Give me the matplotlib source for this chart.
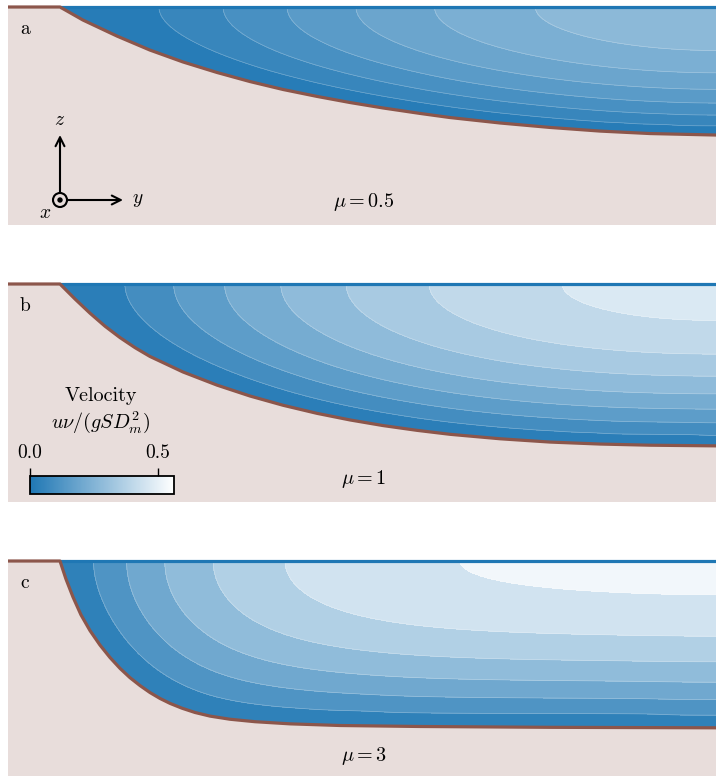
import numpy as np
import matplotlib
matplotlib.use("Agg")
import matplotlib.pyplot as plt
from matplotlib.colors import LinearSegmentedColormap, Normalize
from matplotlib.patches import Circle, Polygon
from matplotlib.cm import ScalarMappable

# bed profiles: distance from the bank top and depth,
# both in units of the channel depth (1 unit = 165 px in the figure)
bank_y_a = [0, 0.139, 0.345, 0.545, 0.745, 0.952, 1.152, 1.352, 1.558, 1.758, 1.958,
            2.182, 2.364, 2.667, 2.970, 3.273, 3.576, 3.976]
depth_a = [0, 0.079, 0.176, 0.261, 0.333, 0.397, 0.452, 0.500, 0.542, 0.579, 0.612,
           0.645, 0.670, 0.703, 0.730, 0.752, 0.767, 0.776]

bank_y_b = [0, 0.091, 0.182, 0.273, 0.364, 0.455, 0.545, 0.745, 0.952, 1.152, 1.352,
            1.558, 1.758, 1.958, 2.164, 2.364, 2.667, 2.970, 3.273, 3.576, 3.976]
depth_b = [0, 0.091, 0.177, 0.256, 0.325, 0.386, 0.439, 0.533, 0.613, 0.679, 0.735,
           0.784, 0.824, 0.858, 0.887, 0.911, 0.938, 0.958, 0.970, 0.977, 0.981]

bank_y_c = [0, 0.036, 0.079, 0.127, 0.182, 0.242, 0.303, 0.364, 0.424, 0.485, 0.545,
            0.606, 0.667, 0.739, 0.818, 0.909, 1.030, 1.182, 1.394, 1.697, 2.182,
            2.970, 3.976]
depth_c = [0, 0.109, 0.219, 0.326, 0.422, 0.509, 0.585, 0.651, 0.707, 0.755, 0.797,
           0.833, 0.863, 0.892, 0.918, 0.940, 0.959, 0.974, 0.987, 0.997, 1.003,
           1.008, 1.011]

panel_letters = ["a", "b", "c"]
mu_values = ["0.5", "1", "3"]
level_top = [0.295, 0.50, 0.57]  # highest contour level in each panel
n_bands = [7, 8, 7]              # number of filled bands in each panel
vel_max = 0.5625                 # top of the colour scale
cbar_ticks = [0.0, 0.5]
cbar_ticklabels = ["0.0", "0.5"]

profiles = [(bank_y_a, depth_a), (bank_y_b, depth_b), (bank_y_c, depth_c)]


def solve_flow(bank_y, depth, y_end, step=0.01, n_iter=1500, omega=1.95):
    # laminar flow: -lap(u) = 1, u = 0 on the bed, du/dn = 0 at surface and centre
    y = np.arange(0, y_end + step / 2, step)
    h = np.interp(y, bank_y, depth)
    z = -np.arange(0, max(depth) + 3 * step, step)
    Y, Z = np.meshgrid(y, z)
    inside = Z > -h[None, :]
    P = np.zeros((len(z) + 2, len(y) + 2))
    U = P[1:-1, 1:-1]
    U[:] = np.where(inside, 0.5 * (h[None, :] ** 2 - Z ** 2), 0.0)
    ii, jj = np.indices(U.shape)
    masks = [inside & ((ii + jj) % 2 == k) for k in (0, 1)]
    for it in range(n_iter):
        for m in masks:
            P[0, :] = P[2, :]
            P[:, -1] = P[:, -3]
            new = 0.25 * (P[:-2, 1:-1] + P[2:, 1:-1] + P[1:-1, :-2] + P[1:-1, 2:] + step ** 2)
            U[m] += omega * (new[m] - U[m])
    return Y, Z, U.copy()


plt.rcParams["mathtext.fontset"] = "cm"
plt.rcParams["font.family"] = "serif"
plt.rcParams["font.serif"] = ["cmr10"]
plt.rcParams["axes.formatter.use_mathtext"] = True

W, H = 716, 776
scale = 165.0
fig = plt.figure(figsize=(W / 100, H / 100), dpi=100)

cmap = LinearSegmentedColormap.from_list("water", ["tab:blue", "white"])
norm = Normalize(0, vel_max)
bg = (232 / 255, 221 / 255, 219 / 255)

tops = [7, 284, 561]
heights = [218, 218, 215]
x_left = (8 - 60) / scale
x_right = (716 - 60) / scale

for i in range(3):
    bank_y, depth = profiles[i]
    top, hgt = tops[i], heights[i]
    ax = fig.add_axes([8 / W, 1 - (top + hgt) / H, 708 / W, hgt / H])
    ax.set_facecolor(bg)
    z_bot = -hgt / scale
    ax.set_xlim(x_left, x_right)
    ax.set_ylim(z_bot, 0)
    ax.set_axis_off()
    ax.add_patch(Polygon([(x_left, z_bot), (x_right, z_bot), (x_right, 0), (x_left, 0)],
                         closed=True, facecolor=bg, edgecolor="none", zorder=0))

    Y, Z, u = solve_flow(bank_y, depth, x_right)
    levels = np.linspace(0, level_top[i], n_bands[i] + 1)
    levels[-1] = max(levels[-1], u.max() + 1e-6)
    ax.contourf(Y, Z, u, levels=levels, cmap=cmap, norm=norm, zorder=1)
    ax.contour(Y, Z, u, levels=levels[1:-1], colors="white", linewidths=0.5,
               alpha=0.3, zorder=2)

    # ground below the bed
    ground = [(x_left, 0), (0, 0)] + [(y, -d) for y, d in zip(bank_y, depth)]
    ground += [(x_right + 0.1, -depth[-1]), (x_right + 0.1, z_bot - 0.1), (x_left, z_bot - 0.1)]
    ax.add_patch(Polygon(ground, closed=True, facecolor=bg, edgecolor="none", zorder=3))

    ax.plot([0, x_right], [0, 0], color="tab:blue", lw=2.3, clip_on=False, zorder=5,
            solid_capstyle="butt")
    ax.plot([x_left, 0] + list(bank_y), [0, 0] + [-d for d in depth], color="tab:brown",
            lw=2.3, clip_on=False, zorder=6, solid_capstyle="butt", solid_joinstyle="round")

    ax.text((25 - 8) / 708, 1 - 27 / hgt, panel_letters[i], transform=ax.transAxes,
            fontsize=14, ha="center", va="baseline")
    ax.text((364 - 60) / scale, -200 / scale, r"$\mu=" + mu_values[i] + "$",
            fontsize=14.5, ha="center", va="baseline")

    if i == 0:
        zc = -(200 - 7) / scale
        r = 7.0 / scale
        ax.add_patch(Circle((0, zc), r, facecolor="none", edgecolor="black", lw=1.5, zorder=7))
        ax.add_patch(Circle((0, zc), 2.7 / scale, facecolor="black", edgecolor="none", zorder=7))
        arrow = dict(arrowstyle="->", lw=1.5, color="black", shrinkA=0, shrinkB=0,
                     mutation_scale=16)
        ax.annotate("", xy=(0, -(135 - 7) / scale), xytext=(0, zc + r), arrowprops=arrow)
        ax.annotate("", xy=((123 - 60) / scale, zc), xytext=(r, zc), arrowprops=arrow)
        ax.text(0, -(120 - 7) / scale, "$z$", fontsize=14, ha="center", va="center")
        ax.text((138 - 60) / scale, zc, "$y$", fontsize=14, ha="center", va="center")
        ax.text((45 - 60) / scale, -(213 - 7) / scale, "$x$", fontsize=14, ha="center",
                va="center")

# colour bar inside panel b
cax = fig.add_axes([30 / W, 1 - 494 / H, 144 / W, 18 / H])
cb = fig.colorbar(ScalarMappable(norm=norm, cmap=cmap), cax=cax, orientation="horizontal",
                  ticklocation="top")
cb.set_ticks(cbar_ticks)
cb.set_ticklabels(cbar_ticklabels)
cb.outline.set_linewidth(1.3)
cax.tick_params(length=6, width=1.0, labelsize=14, pad=4)
fig.text(101 / W, 1 - 401 / H, "Velocity", fontsize=14.5, ha="center", va="baseline")
fig.text(101 / W, 1 - 428 / H, r"$u\nu/(gSD_m^2)$", fontsize=14.5, ha="center", va="baseline")

fig.savefig("out.png", dpi=100, facecolor="white")
